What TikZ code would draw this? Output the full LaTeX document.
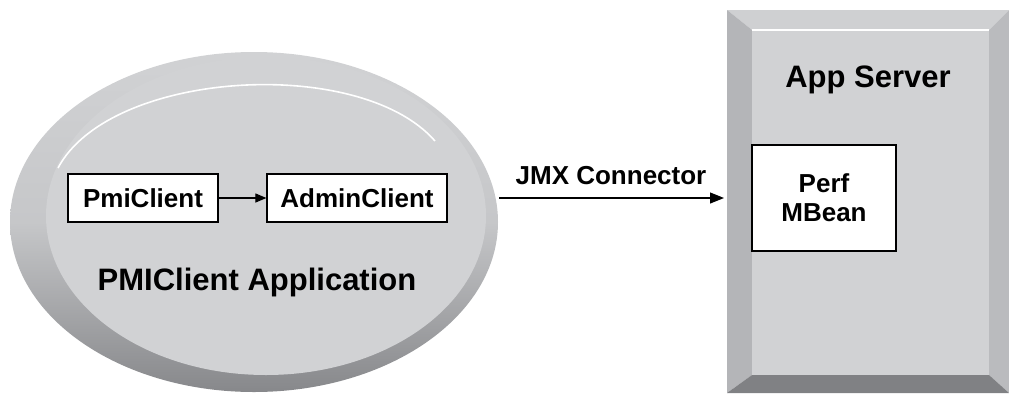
\documentclass[tikz,border=0pt]{standalone}
\usepackage{fontspec}
\setmainfont{Liberation Sans}
\usetikzlibrary{shapes.geometric,arrows.meta}
\definecolor{face}{HTML}{D1D2D4}
\definecolor{ringdark}{HTML}{87888B}
\definecolor{bevL}{HTML}{B4B5B8}
\definecolor{bevR}{HTML}{BABBBE}
\definecolor{bevT}{HTML}{CFD0D2}
\definecolor{bevB}{HTML}{808184}
\tikzset{
  wbox/.style={draw=black, line width=1.2pt, fill=white, inner sep=0pt, font=\bfseries\fontsize{26}{30}\selectfont},
  biglabel/.style={font=\bfseries\fontsize{31}{34}\selectfont, inner sep=0pt},
  conn/.style={line width=1.1pt, -{Triangle[length=14pt,width=11pt]}},
  smallconn/.style={line width=1.1pt, -{Triangle[length=11pt,width=9pt]}}
}
\begin{document}
\begin{tikzpicture}[x=1pt,y=-1pt]
\useasboundingbox (0,0) rectangle (1009,394);
% client ellipse
\node[ellipse, minimum width=488pt, minimum height=340pt, top color=face, bottom color=ringdark, middle color=face!85!ringdark, inner sep=0pt] (ell) at (254,222) {};
\node[ellipse, minimum width=440pt, minimum height=318pt, fill=face, inner sep=0pt] (inner) at (266,216) {};
\draw[white, line width=1.6pt] (58,168) .. controls (110,70) and (360,55) .. (435,141);
\node[wbox, minimum width=150pt, minimum height=48pt] (pmi) at (143,198) {PmiClient};
\node[wbox, minimum width=180pt, minimum height=48pt] (admin) at (357,198) {AdminClient};
\draw[smallconn] (pmi) -- (admin);
\node[biglabel] (applbl) at (257,282) {PMIClient Application};
% app server
\coordinate (so1) at (727,10);
\coordinate (so2) at (1009,10);
\coordinate (so3) at (1009,393);
\coordinate (so4) at (727,393);
\coordinate (si1) at (752,30);
\coordinate (si2) at (989,30);
\coordinate (si3) at (989,375);
\coordinate (si4) at (752,375);
\fill[bevT] (so1) -- (so2) -- (si2) -- (si1) -- cycle;
\fill[bevL] (so1) -- (si1) -- (si4) -- (so4) -- cycle;
\fill[bevR] (so2) -- (so3) -- (si3) -- (si2) -- cycle;
\fill[bevB] (so4) -- (si4) -- (si3) -- (so3) -- cycle;
\node[fill=face, minimum width=237pt, minimum height=345pt, inner sep=0pt, anchor=north west] (srv) at (752,30) {};
\draw[white, line width=1.2pt] (si1) -- (si2);
\node[biglabel] (srvlbl) at (868,80) {App Server};
\node[wbox, minimum width=144pt, minimum height=106pt, align=center, font=\bfseries\fontsize{26}{29}\selectfont] (mbean) at (824,198) {Perf\\MBean};
% connector
\coordinate (jstart) at (499,198);
\coordinate (jend) at (724,198);
\draw[conn] (jstart) -- (jend);
\node[font=\bfseries\fontsize{26}{30}\selectfont, inner sep=0pt] (jmx) at (611,176) {JMX Connector};
\end{tikzpicture}
\end{document}
